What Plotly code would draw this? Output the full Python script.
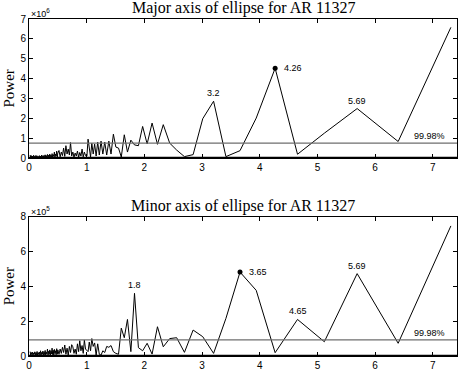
import plotly.graph_objects as go
from plotly.subplots import make_subplots

# periods (hours) -- dense low-period part, then the resolved peaks
PERIOD_NOISE = [
    0.02, 0.03, 0.04, 0.05, 0.06, 0.07, 0.08, 0.09, 0.10, 0.11,
    0.12, 0.13, 0.14, 0.15, 0.16, 0.17, 0.18, 0.19, 0.20, 0.21,
    0.22, 0.23, 0.24, 0.25, 0.26, 0.27, 0.28, 0.29, 0.30, 0.31,
    0.32, 0.33, 0.34, 0.35, 0.36, 0.37, 0.38, 0.39, 0.40, 0.41,
    0.42, 0.43, 0.44, 0.45, 0.46, 0.47, 0.48, 0.49, 0.50,
    0.52, 0.54, 0.56, 0.58, 0.60, 0.62, 0.64, 0.66, 0.68, 0.70,
    0.72, 0.74, 0.76, 0.78, 0.80, 0.82, 0.84, 0.86, 0.88, 0.90,
    0.92, 0.94, 0.96, 0.98,
]
PERIOD_MAIN = [
    1.004, 1.024, 1.045, 1.067, 1.089, 1.113, 1.138, 1.164, 1.191, 1.219,
    1.249, 1.28, 1.313, 1.347, 1.384, 1.422, 1.463, 1.506, 1.552, 1.6,
    1.652, 1.707, 1.766, 1.829, 1.897, 1.97, 2.048, 2.134, 2.227, 2.328,
    2.439, 2.56, 2.695, 2.845, 3.012, 3.2, 3.414, 3.658, 3.939, 4.267,
    4.655, 5.12, 5.689, 6.4, 7.314,
]

# major axis power, units of 1e6
MAJOR_NOISE = [
    0.15, 0.02, 0.12, 0.03, 0.1, 0.01, 0.14, 0.04, 0.09, 0.02,
    0.13, 0.05, 0.11, 0.01, 0.08, 0.03, 0.12, 0.02, 0.1, 0.04,
    0.15, 0.01, 0.11, 0.05, 0.13, 0.02, 0.16, 0.04, 0.12, 0.03,
    0.18, 0.05, 0.14, 0.02, 0.2, 0.06, 0.15, 0.03, 0.22, 0.05,
    0.17, 0.08, 0.3, 0.04, 0.2, 0.1, 0.35, 0.05, 0.25,
    0.38, 0.06, 0.3, 0.12, 0.5, 0.08, 0.62, 0.2, 0.45, 0.15,
    0.78, 0.1, 0.3, 0.05, 0.25, 0.1, 0.35, 0.04, 0.28, 0.1,
    0.45, 0.06, 0.3, 0.12,
]
MAJOR_MAIN = [
    0.1, 0.95, 0.35, 0.05, 0.75, 0.2, 0.7, 0.1, 0.8, 0.15,
    0.85, 0.2, 0.8, 0.15, 0.85, 0.2, 1.2, 0.55, 0.5, 0.05,
    1.17, 0.3, 0.9, 0.66, 0.62, 1.59, 0.71, 1.76, 0.69, 1.68,
    0.75, 0.4, 0.07, 0.17, 1.98, 2.86, 0.07, 0.37, 2.01, 4.52,
    0.19, 1.25, 2.49, 0.83, 6.58,
]

# minor axis power, units of 1e5
MINOR_NOISE = [
    0.25, 0.05, 0.2, 0.08, 0.22, 0.03, 0.18, 0.1, 0.24, 0.04,
    0.2, 0.07, 0.26, 0.02, 0.19, 0.09, 0.23, 0.05, 0.3, 0.06,
    0.21, 0.1, 0.28, 0.03, 0.25, 0.08, 0.32, 0.05, 0.22, 0.12,
    0.4, 0.06, 0.27, 0.1, 0.35, 0.04, 0.3, 0.12, 0.45, 0.08,
    0.33, 0.05, 0.38, 0.15, 0.3, 0.07, 0.42, 0.1, 0.35,
    0.1, 0.4, 0.15, 0.5, 0.2, 0.63, 0.1, 0.45, 0.05, 0.55,
    0.2, 0.65, 0.53, 0.15, 0.4, 0.1, 0.7, 0.25, 0.88, 0.3,
    0.6, 0.15, 0.92, 0.4,
]
MINOR_MAIN = [
    0.3, 0.25, 0.8, 0.3, 1.0, 0.55, 0.75, 0.05, 0.7, 0.1,
    0.05, 0.3, 0.2, 0.55, 0.5, 0.6, 0.25, 0.15, 0.1, 1.6,
    1.05, 2.1, 0.25, 3.6, 0.48, 0.3, 0.73, 0.11, 1.68, 0.53,
    1.0, 1.05, 0.21, 1.49, 1.11, 0.15, 2.16, 4.82, 3.77, 0.19,
    2.1, 0.82, 4.73, 0.73, 7.47,
]

MAJOR_THRESH = 0.75
MINOR_THRESH = 0.93

MAJOR_LABELS = [(3.2, 2.86, "3.2"), (5.689, 2.49, "5.69")]
MAJOR_DOT = (4.267, 4.52, "4.26")
MINOR_LABELS = [(1.829, 3.6, "1.8"), (4.655, 2.1, "4.65"), (5.689, 4.73, "5.69")]
MINOR_DOT = (3.658, 4.82, "3.65")

SERIF = "Liberation Serif"
SANS = "Liberation Sans"

fig = make_subplots(rows=2, cols=1)

panels = [
    (1, MAJOR_NOISE + MAJOR_MAIN, MAJOR_THRESH, MAJOR_LABELS, MAJOR_DOT,
     "Major axis of ellipse for AR 11327", "6", 7, 1),
    (2, MINOR_NOISE + MINOR_MAIN, MINOR_THRESH, MINOR_LABELS, MINOR_DOT,
     "Minor axis of ellipse for AR 11327", "5", 8, 2),
]

period = PERIOD_NOISE + PERIOD_MAIN

for row, power, thresh, labels, dot, title, expo, ymax, dy in panels:
    fig.add_trace(go.Scatter(x=period, y=power, mode="lines",
                             line=dict(color="black", width=1)), row=row, col=1)
    fig.add_trace(go.Scatter(x=[dot[0]], y=[dot[1]], mode="markers",
                             marker=dict(color="black", size=5)), row=row, col=1)
    xa = "x" if row == 1 else "x2"
    ya = "y" if row == 1 else "y2"
    # significance level
    fig.add_shape(type="line", xref=xa + " domain", yref=ya, x0=0, x1=1,
                  y0=thresh, y1=thresh, line=dict(color="#6e6e6e", width=1.2))
    # thick zero line
    fig.add_shape(type="line", xref=xa + " domain", yref=ya, x0=0, x1=1,
                  y0=0, y1=0, line=dict(color="black", width=2.5))
    for px_, py_, txt in labels:
        fig.add_annotation(x=px_, y=py_, xref=xa, yref=ya, text=txt, showarrow=False,
                           yanchor="bottom", yshift=1, font=dict(family=SANS, size=9, color="black"))
    fig.add_annotation(x=dot[0], y=dot[1], xref=xa, yref=ya, text=dot[2], showarrow=False,
                       xanchor="left", xshift=7, font=dict(family=SANS, size=9, color="black"))
    fig.add_annotation(x=6.64, y=thresh, xref=xa, yref=ya, text="99.98%", showarrow=False,
                       xanchor="left", yanchor="bottom", yshift=0,
                       font=dict(family=SANS, size=9, color="black"))
    fig.add_annotation(x=0.5, y=1, xref=xa + " domain", yref=ya + " domain", text=title,
                       showarrow=False, yanchor="bottom", yshift=0,
                       font=dict(family=SERIF, size=16, color="black"))
    fig.add_annotation(x=0, y=1, xref=xa + " domain", yref=ya + " domain",
                       text="\u00d710<sup>" + expo + "</sup>", showarrow=False,
                       xanchor="left", yanchor="bottom", yshift=-2,
                       font=dict(family=SANS, size=9, color="black"))
    fig.add_annotation(x=0, y=0.5, xref=xa + " domain", yref=ya + " domain", text="Power",
                       showarrow=False, textangle=-90, xanchor="center", xshift=-20,
                       font=dict(family=SERIF, size=15, color="black"))
    fig.update_xaxes(range=[0, 7.42], tickvals=[0, 1, 2, 3, 4, 5, 6, 7], row=row, col=1)
    fig.update_yaxes(range=[0, ymax], dtick=dy, row=row, col=1)

fig.update_xaxes(showgrid=False, zeroline=False, showline=True, linecolor="black", linewidth=1,
                 mirror="ticks", ticks="inside", ticklen=4, tickcolor="black",
                 tickfont=dict(family=SANS, size=10, color="black"))
fig.update_yaxes(showgrid=False, zeroline=False, showline=True, linecolor="black", linewidth=1,
                 mirror="ticks", ticks="inside", ticklen=4, tickcolor="black",
                 tickfont=dict(family=SANS, size=10, color="black"))

fig.update_layout(
    width=458, height=372,
    margin=dict(l=29, r=1, t=19, b=16),
    plot_bgcolor="white", paper_bgcolor="white",
    showlegend=False,
    xaxis=dict(domain=[0, 1]), yaxis=dict(domain=[0.5875, 1]),
    xaxis2=dict(domain=[0, 1]), yaxis2=dict(domain=[0, 0.4134]),
)

fig.write_html("out.html", config={"displayModeBar": False},
               post_script="document.body.style.margin='0px';")
